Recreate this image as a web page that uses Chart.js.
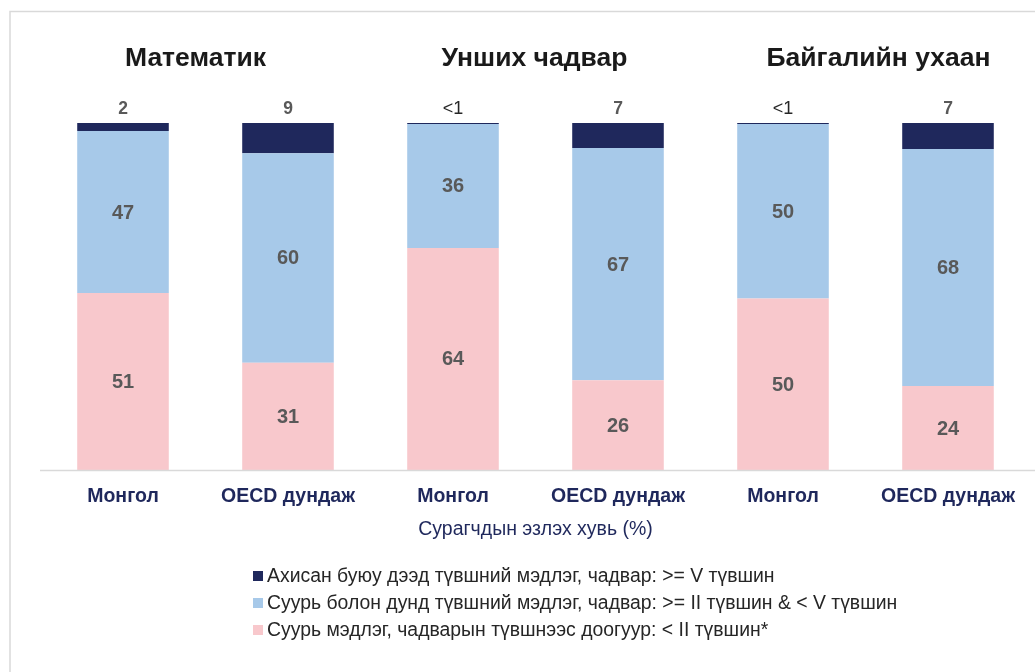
<!DOCTYPE html>
<html>
<head>
<meta charset="utf-8">
<script src="https://cdn.jsdelivr.net/npm/chart.js@4.4.1/dist/chart.umd.min.js"></script>
<style>
html,body{margin:0;padding:0;background:#fff;}
#wrap{position:relative;width:1035px;height:672px;}
</style>
</head>
<body>
<div id="wrap"><canvas id="c" width="1035" height="672"></canvas></div>
<script>
// ---- data ----
const categories = ["Монгол", "OECD дундаж", "Монгол", "OECD дундаж", "Монгол", "OECD дундаж"];
const groupTitles = ["Математик", "Унших чадвар", "Байгалийн ухаан"];
const seriesNames = [
  "Суурь мэдлэг, чадварын түвшнээс доогуур: < II түвшин*",
  "Суурь болон дунд түвшний мэдлэг, чадвар: >= II түвшин & < V түвшин",
  "Ахисан буюу дээд түвшний мэдлэг, чадвар: >= V түвшин"
];
const belowLevel2 = [51.0, 30.9, 64.0, 25.9, 49.4, 24.2];
const level2to5 = [46.7, 60.4, 35.7, 66.9, 50.3, 68.3];
const level5plus = [2.3, 8.7, 0.3, 7.2, 0.3, 7.5];
const belowLevel2Labels = ["51", "31", "64", "26", "50", "24"];
const level2to5Labels = ["47", "60", "36", "67", "50", "68"];
const level5plusLabels = ["2", "9", "<1", "7", "<1", "7"];
const axisTitle = "Сурагчдын эзлэх хувь (%)";

const FONT = "'Liberation Sans', Arial, sans-serif";
const colors = ["#F8C8CC", "#A7C9E9", "#1F285C"];

const framePlugin = {
  id: 'frame',
  beforeDraw(chart) {
    const ctx = chart.ctx;
    ctx.save();
    ctx.strokeStyle = '#D9D9D9';
    ctx.lineWidth = 1.5;
    ctx.strokeRect(10, 11.5, 1100, 1000);
    ctx.restore();
  }
};

const decoPlugin = {
  id: 'deco',
  afterDatasetsDraw(chart) {
    const ctx = chart.ctx;
    const xs = chart.scales.x;
    const area = chart.chartArea;
    ctx.save();
    // baseline
    ctx.strokeStyle = '#D9D9D9';
    ctx.lineWidth = 1.5;
    ctx.beginPath();
    ctx.moveTo(40, area.bottom + 0.5);
    ctx.lineTo(1035, area.bottom + 0.5);
    ctx.stroke();

    // inner labels
    const innerSets = [belowLevel2Labels, level2to5Labels];
    ctx.textAlign = 'center';
    ctx.textBaseline = 'middle';
    ctx.font = "bold 20px " + FONT;
    ctx.fillStyle = '#595959';
    innerSets.forEach((labels, di) => {
      const meta = chart.getDatasetMeta(di);
      meta.data.forEach((bar, i) => {
        const yc = (bar.y + bar.base) / 2;
        ctx.fillText(labels[i], bar.x, yc + 1);
      });
    });
    // top labels
    const topMeta = chart.getDatasetMeta(2);
    topMeta.data.forEach((bar, i) => {
      const t = level5plusLabels[i];
      if (t.startsWith('<')) {
        ctx.font = "18px " + FONT;
        ctx.fillStyle = '#262626';
      } else {
        ctx.font = "bold 17.5px " + FONT;
        ctx.fillStyle = '#595959';
      }
      ctx.fillText(t, bar.x, area.top - 14);
    });

    // group titles
    ctx.font = "bold 26.5px " + FONT;
    ctx.fillStyle = '#1A1A1A';
    const offs = [-10, -1, 13];
    groupTitles.forEach((t, g) => {
      const x = (xs.getPixelForValue(2 * g) + xs.getPixelForValue(2 * g + 1)) / 2 + offs[g];
      ctx.fillText(t, x, 59);
    });

    // legend
    ctx.font = "19.4px " + FONT;
    ctx.textAlign = 'left';
    const rows = [2, 1, 0];
    rows.forEach((di, r) => {
      const yc = 576 + r * 27;
      ctx.fillStyle = chart.data.datasets[di].backgroundColor;
      ctx.fillRect(253, yc - 5, 10, 10);
      ctx.fillStyle = '#262626';
      ctx.fillText(chart.data.datasets[di].label, 267, yc + 1);
    });
    ctx.restore();
  }
};

new Chart(document.getElementById('c'), {
  type: 'bar',
  data: {
    labels: categories,
    datasets: [
      { label: seriesNames[0], data: belowLevel2, backgroundColor: colors[0] },
      { label: seriesNames[1], data: level2to5, backgroundColor: colors[1] },
      { label: seriesNames[2], data: level5plus, backgroundColor: colors[2] }
    ]
  },
  options: {
    responsive: false,
    animation: false,
    devicePixelRatio: 1,
    layout: { padding: { left: 40.5, right: 4.5, top: 123, bottom: 0 } },
    datasets: { bar: { categoryPercentage: 1, barPercentage: 0.555, borderWidth: 0 } },
    plugins: { legend: { display: false }, tooltip: { enabled: false }, title: { display: false } },
    scales: {
      x: {
        stacked: true,
        grid: { display: false, drawTicks: false },
        border: { display: false },
        ticks: { color: '#1F285C', font: { family: FONT, size: 19.5, weight: 'bold' }, padding: 15, maxRotation: 0 },
        title: { display: true, text: axisTitle, color: '#1F285C', font: { family: FONT, size: 19.5 }, padding: { top: 0, bottom: 131 } },
        afterFit(s) { s.height = 202; }
      },
      y: { stacked: true, display: false, min: 0, max: 100 }
    }
  },
  plugins: [framePlugin, decoPlugin]
});
</script>
</body>
</html>
